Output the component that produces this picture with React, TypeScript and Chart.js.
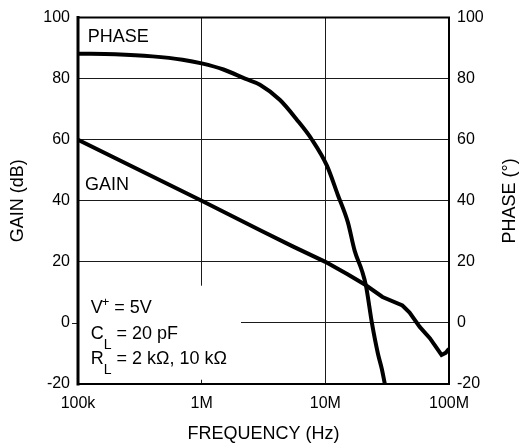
import React, { useEffect, useRef } from 'react';
import { Chart, registerables } from 'chart.js';

Chart.register(...registerables);

// ---- data ----
const freqTicks = [1e5, 1e6, 1e7, 1e8];
const freqTickLabels = ['100k', '1M', '10M', '100M'];
const yMin = -20;
const yMax = 100;
const yStep = 20;

const gainFreq = [1e5, 1e6, 3e6, 5.5e6, 1e7, 1.5e7, 2.1e7, 2.9e7, 4.2e7, 4.8e7, 5.8e7, 7e7, 8.7e7, 9.4e7, 1e8];
const gainDb = [60, 40, 30.3, 25, 20, 16, 12.5, 8.5, 5.7, 3.4, -1.3, -5, -10.5, -9.8, -8.5];

const phaseFreq = [1e5, 2e5, 4e5, 7e5, 1e6, 1.5e6, 2.24e6, 2.96e6, 4.3e6, 5.9e6, 7.8e6, 1.03e7, 1.26e7, 1.52e7, 1.73e7, 1.98e7, 2.13e7, 2.38e7, 2.66e7, 2.86e7, 3.03e7];
const phaseDeg = [88.2, 88, 87.3, 86.2, 85, 83, 80, 78, 73, 66.5, 60, 51.5, 42, 33, 23.5, 17, 12.2, 0, -10, -15, -20];

const xTitle = 'FREQUENCY (Hz)';
const yTitle = 'GAIN (dB)';
const y2Title = 'PHASE (°)';
const phaseLabel = 'PHASE';
const gainLabel = 'GAIN';

const FONT = "'Liberation Sans', Arial, Helvetica, sans-serif";
const GRID = '#1a1a1a';

const overlayPlugin = {
  id: 'overlay',
  beforeDatasetsDraw(chart: any) {
    const { ctx, chartArea, scales } = chart;
    const { left } = chartArea;
    const x = scales.x;
    const y = scales.y;
    ctx.save();
    // white box behind the conditions note
    const mx1 = left + 1;
    const mx2 = x.getPixelForValue(2.08e6);
    const my1 = y.getPixelForValue(12.2);
    const my2 = y.getPixelForValue(-18.6);
    ctx.fillStyle = '#ffffff';
    ctx.fillRect(mx1, my1, mx2 - mx1, my2 - my1);
    // little stub of the zero line outside the axis
    const y0 = Math.round(y.getPixelForValue(0)) + 0.5;
    ctx.strokeStyle = GRID;
    ctx.lineWidth = 1;
    ctx.beginPath();
    ctx.moveTo(left - 6, y0);
    ctx.lineTo(left, y0);
    ctx.stroke();
    ctx.restore();
  },
  afterDatasetsDraw(chart: any) {
    const { ctx, chartArea } = chart;
    const { left, right, top, bottom } = chartArea;
    ctx.save();
    ctx.strokeStyle = '#000';
    ctx.lineCap = 'square';
    ctx.lineWidth = 2;
    ctx.beginPath();
    ctx.moveTo(left, top);
    ctx.lineTo(right, top);
    ctx.lineTo(right, bottom);
    ctx.lineTo(left, bottom);
    ctx.stroke();
    ctx.lineWidth = 3;
    ctx.beginPath();
    ctx.moveTo(left, top);
    ctx.lineTo(left, bottom);
    ctx.stroke();
    ctx.restore();
  },
  afterDraw(chart: any) {
    const { ctx, chartArea, scales } = chart;
    const { left, right, top, bottom } = chartArea;
    const x = scales.x;
    const y = scales.y;
    const midY = (top + bottom) / 2;
    ctx.save();
    ctx.fillStyle = '#000';
    // axis titles
    ctx.font = `18px ${FONT}`;
    ctx.textAlign = 'center';
    ctx.textBaseline = 'middle';
    ctx.fillText(xTitle, (left + right) / 2, 434);
    ctx.save();
    ctx.translate(18, midY);
    ctx.rotate(-Math.PI / 2);
    ctx.fillText(yTitle, 0, 0);
    ctx.restore();
    ctx.save();
    ctx.translate(510, midY);
    ctx.rotate(-Math.PI / 2);
    ctx.fillText(y2Title, 0, 0);
    ctx.restore();

    // curve labels
    ctx.textAlign = 'left';
    ctx.textBaseline = 'alphabetic';
    ctx.font = `18px ${FONT}`;
    ctx.fillText(phaseLabel, x.getPixelForValue(1.2e5), y.getPixelForValue(100 - (38.3 - 14) / 3.085));
    ctx.fillText(gainLabel, x.getPixelForValue(1.14e5), y.getPixelForValue(100 - (188 - 14) / 3.085));

    // conditions note
    const nx = x.getPixelForValue(1.267e5);
    const drawLine = (main: string, small: string, kind: 'sup' | 'sub', rest: string, base: number) => {
      let cx = nx;
      ctx.font = `18px ${FONT}`;
      ctx.fillText(main, cx, base);
      cx += ctx.measureText(main).width;
      if (kind === 'sup') {
        ctx.font = `13px ${FONT}`;
        ctx.fillText(small, cx - 1, base - 7);
        cx += ctx.measureText(small).width - 1;
      } else {
        ctx.font = `14px ${FONT}`;
        ctx.fillText(small, cx, base + 10);
        cx += ctx.measureText(small).width;
      }
      ctx.font = `18px ${FONT}`;
      ctx.fillText(rest, cx, base);
    };
    drawLine('V', '+', 'sup', ' = 5V', y.getPixelForValue(100 - (312 - 14) / 3.085));
    drawLine('C', 'L', 'sub', ' = 20 pF', y.getPixelForValue(100 - (339 - 14) / 3.085));
    drawLine('R', 'L', 'sub', ' = 2 k\u03A9, 10 k\u03A9', y.getPixelForValue(100 - (364 - 14) / 3.085));
    ctx.restore();
  },
};

export default function App() {
  const canvasRef = useRef<HTMLCanvasElement | null>(null);

  useEffect(() => {
    document.body.style.margin = '0';
    const canvas = canvasRef.current;
    if (!canvas) return;
    const chart = new Chart(canvas, {
      type: 'line',
      data: {
        datasets: [
          {
            label: 'Gain',
            data: gainFreq.map((f, i) => ({ x: f, y: gainDb[i] })),
            borderColor: '#000',
            borderWidth: 4,
            pointRadius: 0,
            tension: 0,
            yAxisID: 'y',
          },
          {
            label: 'Phase',
            data: phaseFreq.map((f, i) => ({ x: f, y: phaseDeg[i] })),
            borderColor: '#000',
            borderWidth: 4,
            pointRadius: 0,
            cubicInterpolationMode: 'monotone',
            yAxisID: 'y2',
          },
        ],
      },
      options: {
        animation: false,
        responsive: false,
        devicePixelRatio: 1,
        layout: { padding: { top: 14, left: 0, right: 0, bottom: 0 } },
        plugins: {
          legend: { display: false },
          tooltip: { enabled: false },
        },
        scales: {
          x: {
            type: 'logarithmic',
            min: freqTicks[0],
            max: freqTicks[freqTicks.length - 1],
            afterBuildTicks: (scale: any) => {
              scale.ticks = freqTicks.map((v) => ({ value: v }));
            },
            afterFit: (scale: any) => {
              scale.height = 64;
            },
            grid: { color: GRID, lineWidth: 1, drawTicks: false },
            border: { display: false },
            ticks: {
              autoSkip: false,
              maxRotation: 0,
              padding: 10,
              color: '#000',
              font: { family: FONT, size: 16 },
              callback: (value: any) => {
                const i = freqTicks.indexOf(Number(value));
                return i >= 0 ? freqTickLabels[i] : '';
              },
            },
          },
          y: {
            type: 'linear',
            position: 'left',
            min: yMin,
            max: yMax,
            afterFit: (scale: any) => {
              scale.width = 78;
            },
            grid: { color: GRID, lineWidth: 1, drawTicks: false },
            border: { display: false },
            ticks: {
              stepSize: yStep,
              padding: 8,
              color: '#000',
              font: { family: FONT, size: 16 },
            },
          },
          y2: {
            type: 'linear',
            position: 'right',
            min: yMin,
            max: yMax,
            afterFit: (scale: any) => {
              scale.width = 71;
            },
            grid: { display: false, drawTicks: false },
            border: { display: false },
            ticks: {
              stepSize: yStep,
              padding: 8,
              color: '#000',
              font: { family: FONT, size: 16 },
            },
          },
        },
      },
      plugins: [overlayPlugin],
    } as any);
    return () => chart.destroy();
  }, []);

  return (
    <canvas
      ref={canvasRef}
      width={520}
      height={448}
      style={{ display: 'block', width: '520px', height: '448px' }}
    />
  );
}
